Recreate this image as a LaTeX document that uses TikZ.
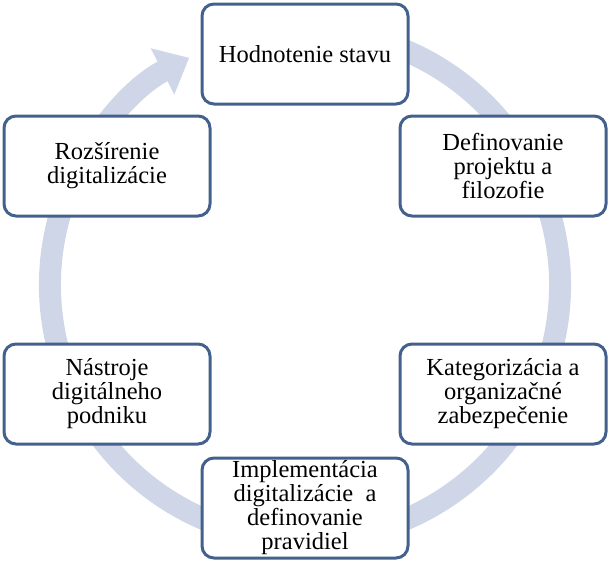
\documentclass[tikz,border=0pt]{standalone}
\usepackage{fontspec}
\setmainfont{Liberation Serif}
\usetikzlibrary{arrows.meta}
\definecolor{ring}{RGB}{207,214,231}
\definecolor{bord}{RGB}{67,97,140}
\begin{document}
\begin{tikzpicture}[x=1pt,y=-1pt,
  box/.style={draw=bord,line width=3pt,fill=white,rounded corners=12pt,minimum width=206pt,minimum height=100pt,align=center,font=\fontsize{24.5}{24}\selectfont,inner sep=1pt}]
\useasboundingbox (0,0) rectangle (612,565);
\coordinate (c) at (305,285);
\draw[ring,line width=22pt,-{Triangle[length=30pt,width=50pt]}] (c) ++(-70:255) arc[start angle=-70,end angle=243,radius=255];
\node[box] (a) at (305,54) {Hodnotenie stavu};
\node[box] (b) at (503,166) {Definovanie\\projektu a\\filozofie};
\node[box] (d) at (503,394) {Kategorizácia a\\organizačné\\zabezpečenie};
\node[box] (e) at (305,508) {Implementácia\\digitalizácie~ a\\definovanie\\pravidiel};
\node[box] (f) at (107,394) {Nástroje\\digitálneho\\podniku};
\node[box] (g) at (107,166) {Rozšírenie\\digitalizácie};
\end{tikzpicture}
\end{document}
